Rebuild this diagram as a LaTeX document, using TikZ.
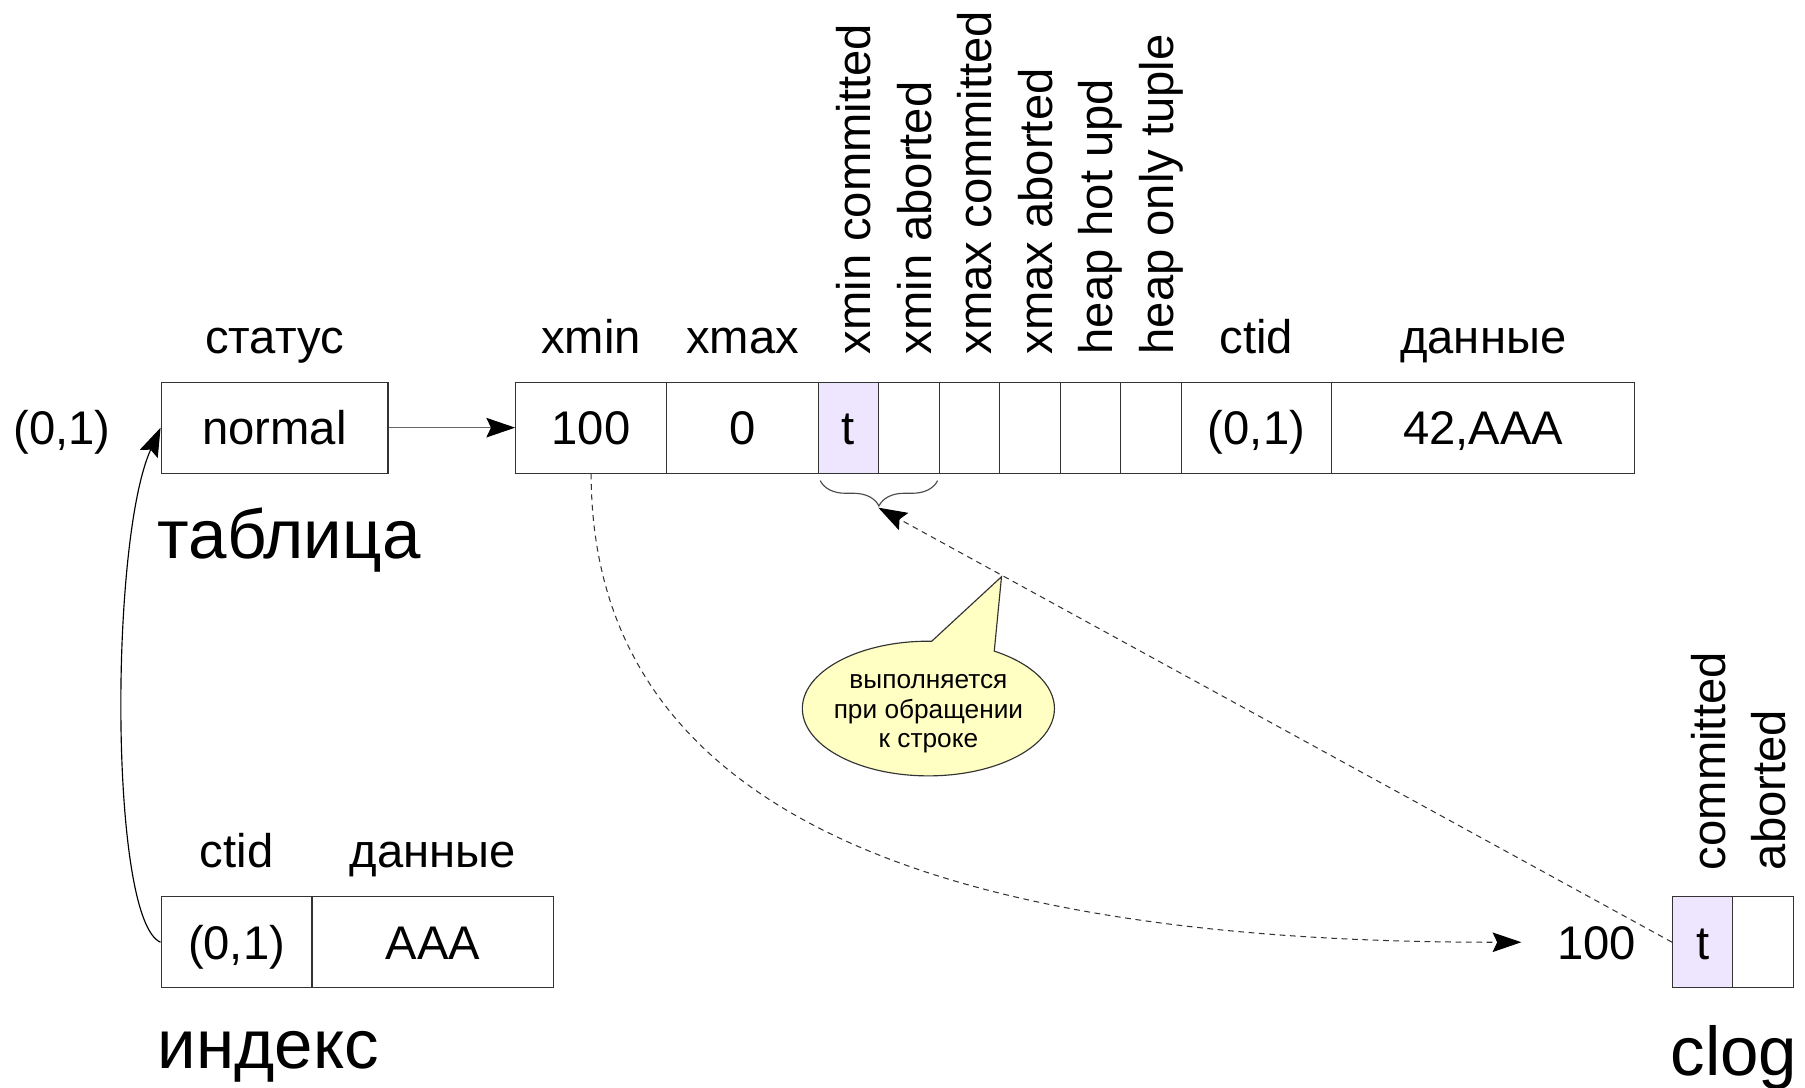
\documentclass[tikz,border=0pt]{standalone}
\usepackage{fontspec}
\setmainfont{Liberation Sans}
\usetikzlibrary{arrows.meta,shapes.callouts,decorations.pathreplacing}
\definecolor{lav}{RGB}{238,230,255}
\definecolor{callfill}{RGB}{255,255,196}
\begin{document}
\begin{tikzpicture}[x=1pt,y=-1pt,
  txt/.style={font=\fontsize{41}{49}\selectfont,inner sep=0pt,text height=29.5pt,text depth=0pt},
  cell/.style={txt,draw=black!80,line width=1pt,minimum height=79pt},
  hdr/.style={font=\fontsize{41}{49}\selectfont,inner sep=0pt,anchor=base},
  vlab/.style={font=\fontsize{41}{49}\selectfont,inner sep=0pt,rotate=90,anchor=base west},
  big/.style={font=\fontsize{60}{72}\selectfont,inner sep=0pt,anchor=base west},
  tip/.style={-{Stealth[length=25pt,width=17pt,inset=4pt,color=black]}},
  dsh/.style={line width=0.9pt,draw=black!80,dash pattern=on 5pt off 4pt},
]
\useasboundingbox (0,0) rectangle (1568,945);

% table row
\node[cell,minimum width=197pt] (st) at (238.5,371.5) {normal};
\node[cell,minimum width=131pt] (c1) at (513.5,371.5) {100};
\node[cell,minimum width=132pt] (c2) at (645,371.5) {0};
\node[cell,minimum width=52pt,fill=lav] (f1) at (737,371.5) {t};
\node[cell,minimum width=53pt] (f2) at (789.5,371.5) {};
\node[cell,minimum width=52pt] (f3) at (842,371.5) {};
\node[cell,minimum width=53pt] (f4) at (894.5,371.5) {};
\node[cell,minimum width=52pt] (f5) at (947,371.5) {};
\node[cell,minimum width=53pt] (f6) at (999.5,371.5) {};
\node[cell,minimum width=131pt] (ct) at (1091.5,371.5) {(0,1)};
\node[cell,minimum width=263pt] (dt) at (1288.5,371.5) {42,AAA};

\node[txt] (tid) at (54,371.5) {(0,1)};

% headings
\node[hdr] (h1) at (238.5,307) {статус};
\node[hdr] (h2) at (513.5,307) {xmin};
\node[hdr] (h3) at (645,307) {xmax};
\node[hdr] (h4) at (1091.5,307) {ctid};
\node[hdr] (h5) at (1288.5,307) {данные};

\node[vlab] (v1) at (756.5,308) {xmin committed};
\node[vlab] (v2) at (809,308) {xmin aborted};
\node[vlab] (v3) at (861.5,308) {xmax committed};
\node[vlab] (v4) at (914,308) {xmax aborted};
\node[vlab] (v5) at (966.5,308) {heap hot upd};
\node[vlab] (v6) at (1019,308) {heap only tuple};

\node[big] (tab) at (137,485) {таблица};

% index
\node[cell,minimum width=131pt] (i1) at (205.5,818.5) {(0,1)};
\node[cell,minimum width=210pt] (i2) at (376,818.5) {AAA};
\node[hdr] (ih1) at (205.5,754) {ctid};
\node[hdr] (ih2) at (376,754) {данные};
\node[big] (idx) at (137,928) {индекс};

% clog
\node[cell,minimum width=52pt,fill=lav] (k1) at (1479,818.5) {t};
\node[cell,minimum width=53pt] (k2) at (1531.5,818.5) {};
\node[txt,inner xsep=31pt] (k100) at (1387,818.5) {100};
\node[vlab] (kv1) at (1498.5,756) {committed};
\node[vlab] (kv2) at (1551,756) {aborted};
\node[big] (clog) at (1451,934) {clog};

% connectors
\draw[line width=1pt,draw=black!60,tip] (st.east) -- (c1.west);
\draw[line width=1pt,tip] (i1.west) .. controls (95,800) and (95,470) .. (st.west);
\draw[dsh,tip] (c1.south) .. controls (514,700) and (800,819) .. (k100.west);

\draw[decorate,decoration={brace,mirror,amplitude=22pt},line width=1pt,draw=black!70]
  ([xshift=2pt,yshift=-6pt]f1.south west) -- ([xshift=-2pt,yshift=-6pt]f2.south east);
\coordinate (bt) at (763,441);
\draw[dsh,tip] (k1.west) -- (bt);

% callout
\node[ellipse callout,draw=black!80,fill=callfill,line width=1pt,minimum width=219pt,
  minimum height=117pt,inner sep=0pt,callout absolute pointer={(870,501)},callout pointer arc=30]
  (call) at (806.5,615.5) {};
\node[font=\fontsize{22.8}{25.5}\selectfont,align=center,inner sep=0pt] (calltxt) at (806.5,620)
  {выполняется\\при обращении\\к строке};
\end{tikzpicture}
\end{document}
